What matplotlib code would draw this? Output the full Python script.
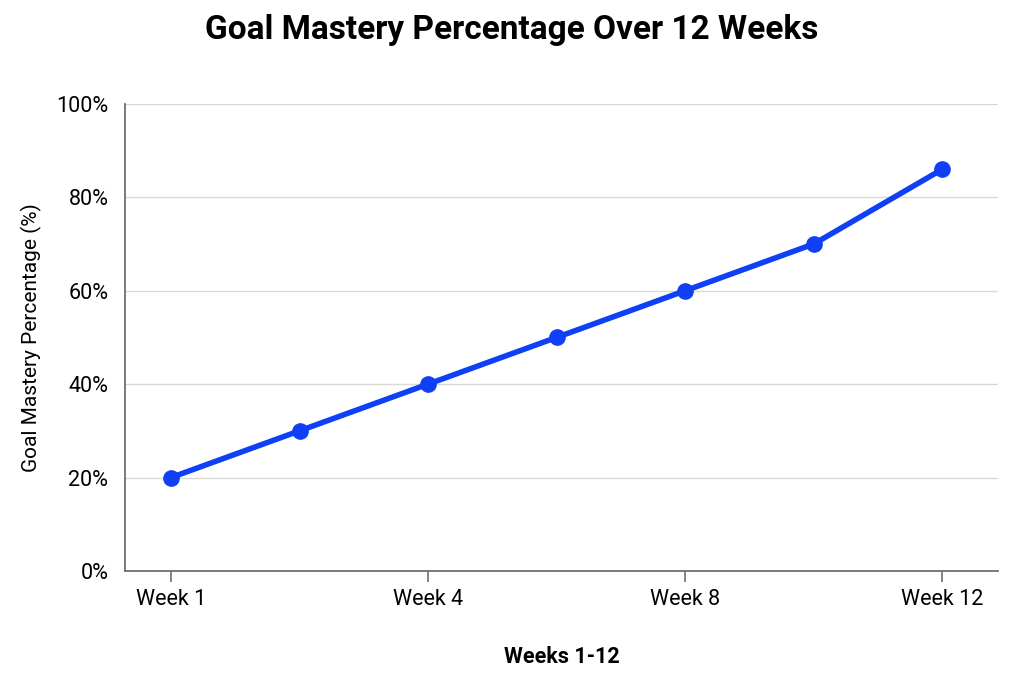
import matplotlib
matplotlib.use("Agg")
import matplotlib.pyplot as plt
from matplotlib.ticker import PercentFormatter

# data
points = [0, 1, 2, 3, 4, 5, 6]
mastery = [20, 30, 40, 50, 60, 70, 86]
tick_pos = [0, 2, 4, 6]
tick_labels = ['Week 1', 'Week 4', 'Week 8', 'Week 12']

plt.rcParams['font.family'] = ['Roboto', 'DejaVu Sans']

fig = plt.figure(figsize=(10.24, 6.83), dpi=100)
ax = fig.add_axes([0.122, 0.164, 0.853, 0.684])

ax.plot(points, mastery, color='#1040f5', lw=4, marker='o', ms=11, zorder=3)

ax.set_xlim(-0.358, 6.436)
ax.set_ylim(0, 100)
ax.set_xticks(tick_pos)
ax.set_xticklabels(tick_labels)
ax.set_yticks([0, 20, 40, 60, 80, 100])
ax.yaxis.set_major_formatter(PercentFormatter(decimals=0))

ax.grid(axis='y', color='#d9d9d9', lw=1)
ax.set_axisbelow(True)
for s in ['top', 'right']:
    ax.spines[s].set_visible(False)
for s in ['left', 'bottom']:
    ax.spines[s].set_color('#707070')
    ax.spines[s].set_linewidth(1.3)

ax.tick_params(axis='x', length=8, width=1.2, color='#707070', labelsize=15.5, pad=5)
ax.tick_params(axis='y', length=0, labelsize=15.5, pad=12)

ax.set_xlabel('Weeks 1-12', fontsize=15.5, fontweight='bold', labelpad=26)
ax.set_ylabel('Goal Mastery Percentage (%)', fontsize=15, labelpad=10)
fig.suptitle('Goal Mastery Percentage Over 12 Weeks', fontsize=24, fontweight='bold', y=0.98)

fig.savefig('out.png', dpi=100, facecolor='white')
